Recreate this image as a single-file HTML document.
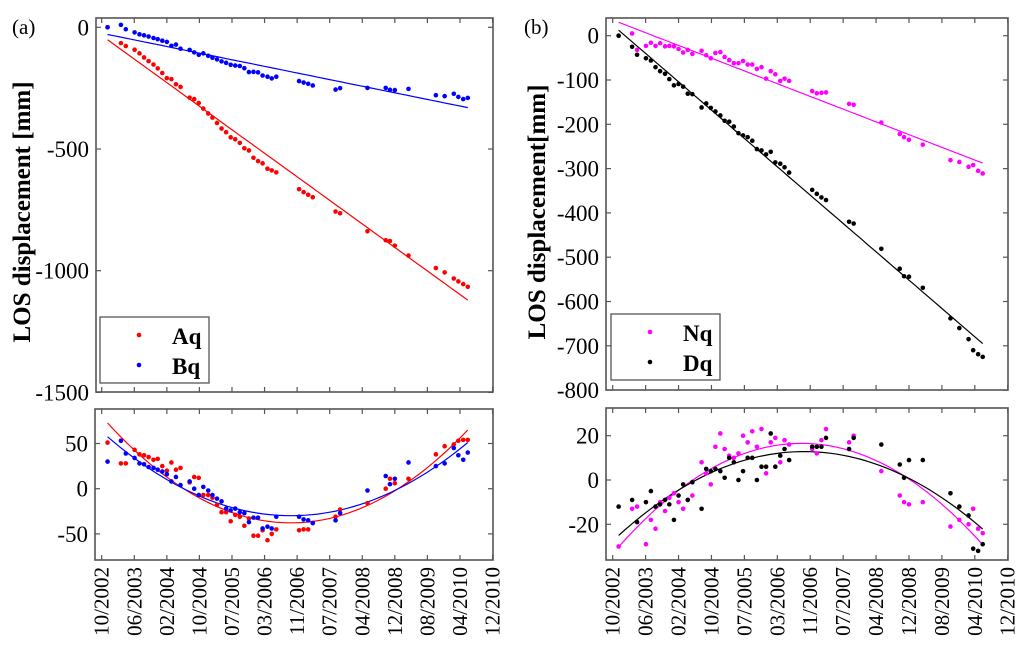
<!DOCTYPE html>
<html><head><meta charset="utf-8"><style>
html,body{margin:0;padding:0;background:#fff;}
svg{display:block;}
svg text{font-family:"Liberation Serif","DejaVu Serif","Times New Roman",Times,serif;}
</style></head><body>
<svg id="chart" width="1024" height="652" viewBox="0 0 1024 652" style="position:absolute;left:0;top:0"></svg>
<script>
const dateLabels=["10/2002","06/2003","02/2004","10/2004","07/2005","03/2006","11/2006","07/2007","04/2008","12/2008","08/2009","04/2010","12/2010"];
const dates=[0.18,0.59,0.74,1.01,1.16,1.30,1.44,1.59,1.72,1.86,2.00,2.14,2.28,2.42,2.70,2.84,2.98,3.12,3.27,3.40,3.54,3.68,3.82,3.96,4.10,4.24,4.38,4.52,4.66,4.80,4.94,5.09,5.22,5.36,6.06,6.20,6.34,6.48,7.18,7.32,8.16,8.72,8.85,9.00,9.42,10.26,10.53,10.81,10.95,11.10,11.24];
const aq=[0,-65,-77,-92,-107,-124,-139,-153,-169,-188,-209,-213,-234,-245,-289,-295,-311,-334,-354,-371,-393,-416,-431,-452,-460,-475,-497,-506,-536,-550,-559,-581,-588,-596,-665,-677,-688,-698,-757,-764,-838,-875,-878,-897,-938,-989,-1007,-1032,-1044,-1055,-1066];
const bq=[0,10,-8,-21,-29,-33,-38,-44,-49,-55,-60,-76,-71,-88,-93,-103,-113,-107,-117,-125,-132,-140,-146,-154,-157,-159,-168,-184,-183,-185,-198,-203,-210,-203,-221,-227,-232,-239,-256,-250,-249,-249,-257,-258,-253,-279,-283,-273,-286,-295,-290];
const aqRes=[51,28,28,43,38,37,35,32,33,25,20,29,21,23,7,13,12,-7,-7,-10,-18,-26,-26,-36,-29,-31,-41,-33,-52,-52,-46,-57,-50,-45,-46,-45,-45,-38,-31,-23,-16,0,11,6,11,38,47,49,53,54,54];
const bqRes=[30,53,39,34,28,27,24,23,21,19,16,8,13,4,8,0,-7,2,-2,-7,-11,-14,-22,-24,-22,-26,-27,-37,-32,-32,-44,-42,-44,-31,-31,-34,-35,-38,-35,-27,-2,14,5,11,29,25,28,45,37,32,40];
const dq=[0,-25,-43,-51,-56,-71,-80,-86,-98,-112,-109,-115,-131,-132,-162,-153,-163,-171,-180,-192,-194,-205,-220,-225,-229,-237,-256,-259,-268,-262,-286,-289,-297,-309,-348,-357,-365,-371,-420,-424,-481,-526,-543,-544,-569,-638,-660,-685,-710,-719,-725];
const nq=[0,5,-32,-23,-16,-23,-17,-24,-23,-24,-30,-38,-32,-41,-34,-44,-51,-39,-37,-48,-55,-62,-62,-57,-65,-65,-75,-71,-97,-80,-87,-102,-97,-102,-125,-130,-129,-128,-154,-156,-196,-222,-229,-235,-246,-281,-285,-296,-292,-305,-311];
const dqRes=[-12,-9,-19,-10,-5,-12,-11,-9,-11,-18,-7,-2,-9,-1,-13,5,4,5,4,1,10,8,0,4,10,10,0,6,6,21,6,11,14,9,15,15,15,19,14,19,16,7,1,9,9,-6,-12,-16,-31,-32,-29];
const nqRes=[-30,-13,-12,-29,-18,-22,-10,-14,-8,-6,-10,-13,-9,-7,8,3,-2,15,21,14,11,10,12,20,17,22,15,23,3,17,19,8,18,16,14,12,18,23,17,20,4,-7,-10,-11,-10,-21,-18,-20,-13,-22,-24];
const ticksLeftTop=[0,-500,-1000,-1500], ticksLeftBot=[50,0,-50];
const ticksRightTop=[0,-100,-200,-300,-400,-500,-600,-700,-800], ticksRightBot=[20,0,-20];

const svg=document.getElementById('chart');
const NS='http://www.w3.org/2000/svg';
const SERIF='"Liberation Serif","DejaVu Serif","Times New Roman",Times,serif';
function mk(tag,attrs,parent){const e=document.createElementNS(NS,tag);for(const k in attrs)e.setAttribute(k,attrs[k]);(parent||svg).appendChild(e);return e;}
function linFit(x,y){const n=x.length;let sx=0,sy=0,sxx=0,sxy=0;for(let i=0;i<n;i++){sx+=x[i];sy+=y[i];sxx+=x[i]*x[i];sxy+=x[i]*y[i];}const b=(n*sxy-sx*sy)/(n*sxx-sx*sx);const a=(sy-b*sx)/n;return t=>a+b*t;}
function quadFit(x,y){let S=[0,0,0,0,0],T=[0,0,0];for(let i=0;i<x.length;i++){let p=1;for(let k=0;k<5;k++){S[k]+=p;if(k<3)T[k]+=p*y[i];p*=x[i];}}
 const M=[[S[0],S[1],S[2],T[0]],[S[1],S[2],S[3],T[1]],[S[2],S[3],S[4],T[2]]];
 for(let c=0;c<3;c++){for(let r=c+1;r<3;r++){const f=M[r][c]/M[c][c];for(let k=c;k<4;k++)M[r][k]-=f*M[c][k];}}
 const z=[0,0,0];for(let r=2;r>=0;r--){let s=M[r][3];for(let k=r+1;k<3;k++)s-=M[r][k]*z[k];z[r]=s/M[r][r];}
 return t=>z[0]+z[1]*t+z[2]*t*t;}

function panel(p){
 const g=mk('g',{});
 
 
 const xs=t=>p.x0+t*p.step;
 const ys=v=>p.yRef+(p.vRef-v)*p.ppu;
 mk('rect',{x:p.L,y:p.T,width:p.R-p.L,height:p.B-p.T,fill:'none',stroke:'#555','stroke-width':1.6},g);
 for(let i=0;i<dateLabels.length;i++){const x=xs(i);
  mk('line',{x1:x,y1:p.B,x2:x,y2:p.B-5,stroke:'#555','stroke-width':1.2},g);
  mk('line',{x1:x,y1:p.T,x2:x,y2:p.T+5,stroke:'#555','stroke-width':1.2},g);
  if(p.dateLabels){const t=mk('text',{x:0,y:0,'font-size':21,'text-anchor':'end',transform:`translate(${x+7},${p.B+7}) rotate(-90)`},g);t.style.fontFamily=SERIF;t.textContent=dateLabels[i];
   
   }
 }
 p.ticks.forEach(v=>{const y=ys(v);
  mk('line',{x1:p.L,y1:y,x2:p.L+5,y2:y,stroke:'#555','stroke-width':1.2},g);
  mk('line',{x1:p.R,y1:y,x2:p.R-5,y2:y,stroke:'#555','stroke-width':1.2},g);
  const t=mk('text',{x:p.L-7,y:y+8,'font-size':23,'text-anchor':'end'},g);t.style.fontFamily=SERIF;t.textContent=v;
  
  
 });
 p.series.forEach(s=>{
  const f=p.quad?quadFit(dates,s.v):linFit(dates,s.v);
  let d='';const t0=dates[0],t1=dates[dates.length-1];
  for(let k=0;k<=60;k++){const t=t0+(t1-t0)*k/60;d+=(k?'L':'M')+xs(t).toFixed(1)+','+ys(f(t)).toFixed(1);}
  const ln=mk('path',{d:d,fill:'none',stroke:s.c,'stroke-width':1.2},g);
  
  
 });
 p.series.forEach(s=>{
  s.v.forEach((v,i)=>{const c=mk('circle',{cx:xs(dates[i]),cy:ys(v),r:2.3,fill:s.c},g);
   
   });
 });
}
panel({name:'panel-a-top',L:96,R:493,T:18,B:392,x0:101.7,step:32.57,yRef:27.3,vRef:0,ppu:121.7/500,ticks:ticksLeftTop,dateLabels:false,quad:false,
 series:[{n:'aq',v:aq,c:'#f00'},{n:'bq',v:bq,c:'#00f'}]});
panel({name:'panel-a-bottom',L:95,R:493,T:409,B:560,x0:101.7,step:32.57,yRef:488.7,vRef:0,ppu:45.2/50,ticks:ticksLeftBot,dateLabels:true,quad:true,
 series:[{n:'aq-residual',v:aqRes,c:'#f00'},{n:'bq-residual',v:bqRes,c:'#00f'}]});
panel({name:'panel-b-top',L:606,R:1008,T:18,B:390,x0:612.7,step:32.92,yRef:35.7,vRef:0,ppu:44.3/100,ticks:ticksRightTop,dateLabels:false,quad:false,
 series:[{n:'nq',v:nq,c:'#f0f'},{n:'dq',v:dq,c:'#000'}]});
panel({name:'panel-b-bottom',L:606,R:1008,T:408,B:560,x0:612.7,step:32.92,yRef:480,vRef:0,ppu:44.3/20,ticks:ticksRightBot,dateLabels:true,quad:true,
 series:[{n:'nq-residual',v:nqRes,c:'#f0f'},{n:'dq-residual',v:dqRes,c:'#000'}]});
</script>
<svg width="1024" height="652" style="position:absolute;left:0;top:0">
 <text x="12" y="34" font-size="21">(a)</text>
 <text x="524" y="34" font-size="21">(b)</text>
 <text transform="translate(30,212) rotate(-90)" text-anchor="middle" font-weight="bold" font-size="25">LOS displacement [mm]</text>
 <text transform="translate(545,212) rotate(-90)" text-anchor="middle" font-weight="bold" font-size="25">LOS displacement[mm]</text>
 <g>
  <rect x="100" y="317" width="109" height="66" fill="#fff" stroke="#555" stroke-width="1.3"/>
  <circle cx="139" cy="335" r="2.3" fill="#f00"/>
  <text x="172" y="344" font-weight="bold" font-size="23">Aq</text>
  <circle cx="139" cy="365" r="2.3" fill="#00f"/>
  <text x="172" y="374" font-weight="bold" font-size="23">Bq</text>
 </g>
 <g>
  <rect x="611" y="314" width="109" height="66" fill="#fff" stroke="#555" stroke-width="1.3"/>
  <circle cx="650" cy="332" r="2.3" fill="#f0f"/>
  <text x="683" y="341" font-weight="bold" font-size="23">Nq</text>
  <circle cx="650" cy="362" r="2.3" fill="#000"/>
  <text x="683" y="371" font-weight="bold" font-size="23">Dq</text>
 </g>
</svg>
</body></html>
